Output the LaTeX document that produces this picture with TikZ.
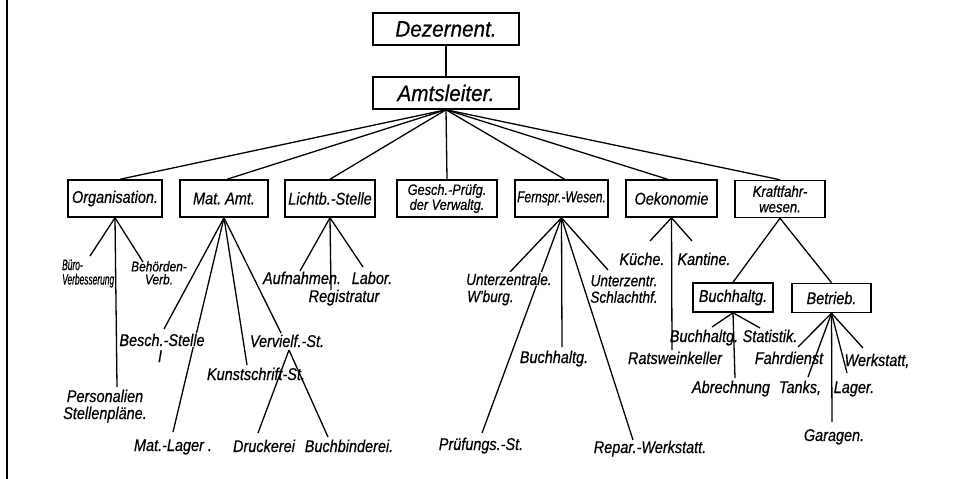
\documentclass[tikz,border=0pt]{standalone}
\usepackage{fontspec}
\newfontfamily\handfont[FakeStretch=0.85,FakeBold=0.5]{Liberation Sans}
\newfontfamily\narrowfont[FakeStretch=0.75,FakeBold=0.5]{Liberation Sans}
\newfontfamily\tightfont[FakeStretch=0.56,FakeBold=0.5]{Liberation Sans}
\newfontfamily\topfont[FakeStretch=0.92,FakeBold=0.5]{Liberation Sans}
\newcommand\leaffont{\handfont\itshape\fontsize{17}{16}\selectfont}
\pgfdeclarelayer{lines}
\pgfsetlayers{lines,main}
\begin{document}
\begin{tikzpicture}[x=1pt,y=-1pt,
  box/.style={draw,line width=1.5pt,inner sep=0pt,align=center,font=\leaffont},
  topbox/.style={box,minimum width=146pt,minimum height=32pt,
    font=\topfont\itshape\fontsize{22.5}{22}\selectfont},
  unitbox/.style={box,minimum height=37pt},
  subbox/.style={box,minimum height=29pt},
  lbl/.style={inner sep=0pt,anchor=base,font=\leaffont},
  lblm/.style={inner sep=0pt,anchor=north,align=center,font=\handfont\itshape\fontsize{17}{17}\selectfont},
  gap/.style={fill=white,inner xsep=1pt,inner ysep=1pt},
  link/.style={line width=1.3pt}]
\useasboundingbox (0,0) rectangle (958,479);

% left margin rule
\draw[line width=1.8pt] (7,0) -- (7,479);

% top of the hierarchy
\node[topbox] (dez) at (446,29) {Dezernent.};
\node[topbox] (amt) at (446,93) {Amtsleiter.};

% departments
\node[unitbox,minimum width=94pt] (org) at (115,198.5) {Organisation.};
\node[unitbox,minimum width=88pt] (mat) at (224,198.5) {Mat.\ Amt.};
\node[unitbox,minimum width=90pt] (licht) at (330,198.5) {Lichtb.-Stelle};
\node[unitbox,minimum width=100pt,font=\handfont\itshape\fontsize{15}{15}\selectfont]
  (gesch) at (447,198.5) {Gesch.-Prüfg.\\der Verwaltg.};
\node[unitbox,minimum width=93pt,font=\narrowfont\itshape\fontsize{16}{15}\selectfont]
  (fern) at (561.5,198.5) {Fernspr.-Wesen.};
\node[unitbox,minimum width=91pt] (oek) at (671.5,198.5) {Oekonomie};
\node[unitbox,minimum width=90pt,font=\handfont\itshape\fontsize{15.5}{15.5}\selectfont]
  (kraft) at (780,199) {Kraftfahr-\\wesen.};
\node[subbox,minimum width=80pt] (buchb) at (733,297.5) {Buchhaltg.};
\node[subbox,minimum width=79pt] (betr) at (831.5,298) {Betrieb.};

% Organisation
\node[inner sep=0pt,anchor=north west,align=left,
  font=\tightfont\itshape\fontsize{15}{14.5}\selectfont] (bv) at (62,259.5) {Büro-\\Verbesserung};
\node[inner sep=0pt,anchor=north,align=center,
  font=\handfont\itshape\fontsize{14}{13}\selectfont] (bh) at (159,261) {Behörden-\\Verb.};
\node[lblm] (pers) at (105,389.5) {Personalien\\Stellenpläne.};
\coordinate (e-bv) at (90,256);
\coordinate (e-bh) at (143,262);
\coordinate (e-pers) at (117,387);

% Mat. Amt
\node[lbl,gap] (besch) at (162,346) {Besch.-Stelle};
\node[lbl] (beschI) at (160,362) {I};
\node[lbl] (kunst) at (256,380) {Kunstschrift-St.};
\node[lbl] (verv) at (287,347) {Vervielf.-St.};
\node[lbl] (matlager) at (173,451) {Mat.-Lager .};
\node[lbl] (druck) at (264,452) {Druckerei};
\node[lbl] (bind) at (349,452) {Buchbinderei.};
\coordinate (e-besch) at (164,329);
\coordinate (e-lager) at (173,432);
\coordinate (e-kunst) at (247,365);
\coordinate (e-verv) at (281,333);
\coordinate (v0) at (289,350);
\coordinate (e-druck) at (258,433);
\coordinate (e-bind) at (328,437);

% Lichtbild-Stelle
\node[lbl] (aufn) at (302,284) {Aufnahmen.};
\node[lbl] (labor) at (372,284) {Labor.};
\node[lbl] (regis) at (344,302) {Registratur};
\coordinate (e-aufn) at (300,271);
\coordinate (e-labor) at (363,267);
\coordinate (e-regis) at (331,290);

% Fernsprechwesen
\node[lbl,gap,anchor=base west,font=\handfont\itshape\fontsize{16}{16}\selectfont]
  (unterw) at (465,285) {Unterzentrale.};
\node[lbl,anchor=base west,font=\handfont\itshape\fontsize{16}{16}\selectfont]
  (wburg) at (467,302) {W'burg.};
\node[lbl] (pruef) at (481,450) {Prüfungs.-St.};
\node[lbl] (fbuch) at (554,363) {Buchhaltg.};
\node[lbl] (repar) at (650,453) {Repar.-Werkstatt.};
\node[lblm,font=\handfont\itshape\fontsize{16}{16.5}\selectfont] (unters) at (624,275) {Unterzentr.\\Schlachthf.};
\coordinate (e-unterw) at (510,272);
\coordinate (e-pruef) at (482,433);
\coordinate (e-fbuch) at (562,347);
\coordinate (e-repar) at (633,440);
\coordinate (e-unters) at (608,270);

% Oekonomie
\node[lbl] (kueche) at (642,265) {Küche.};
\node[lbl] (kantine) at (704,265) {Kantine.};
\node[lbl] (rats) at (675,364) {Ratsweinkeller};
\coordinate (e-kueche) at (650,241);
\coordinate (e-kantine) at (692,241);
\coordinate (e-rats) at (672,350);

% Kraftfahrwesen: Buchhaltung
\node[lbl] (kbuch) at (704,342) {Buchhaltg.};
\node[lbl] (stat) at (770,342) {Statistik.};
\node[lbl] (abr) at (731,393) {Abrechnung};
\coordinate (e-kbuch) at (712,327);
\coordinate (e-stat) at (760,328);
\coordinate (e-abr) at (735,378);

% Kraftfahrwesen: Betrieb
\node[lbl] (fahr) at (789,364) {Fahrdienst};
\node[lbl] (werk) at (877,366) {Werkstatt,};
\node[lbl] (tanks) at (800,393) {Tanks,};
\node[lbl] (lager) at (854,393) {Lager.};
\node[lbl] (garagen) at (834,441) {Garagen.};
\coordinate (e-fahr) at (798,347);
\coordinate (e-tanks) at (808,377);
\coordinate (e-garagen) at (832,422);
\coordinate (e-lagerb) at (847,373);
\coordinate (e-werk) at (863,348);

\begin{pgfonlayer}{lines}
\draw[link] (dez.south) -- (amt.north);
\foreach \t/\dx in {org/5,mat/3,licht/0,gesch/0,fern/3,oek/-4,kraft/0}
  \draw[link] (amt.south) -- ([xshift=\dx pt]\t.north);
\foreach \e in {e-bv,e-bh,e-pers} \draw[link] (org.south) -- (\e);
\foreach \e in {e-besch,e-lager,e-kunst,e-verv} \draw[link] (mat.south) -- (\e);
\foreach \e in {e-druck,e-bind} \draw[link] (v0) -- (\e);
\foreach \e in {e-aufn,e-labor,e-regis} \draw[link] (licht.south) -- (\e);
\foreach \e in {e-unterw,e-pruef,e-fbuch,e-repar,e-unters} \draw[link] (fern.south) -- (\e);
\foreach \e in {e-kueche,e-kantine,e-rats} \draw[link] (oek.south) -- (\e);
\draw[link] (kraft.south) -- (buchb.north);
\draw[link] (kraft.south) -- (betr.north);
\foreach \e in {e-kbuch,e-stat,e-abr} \draw[link] (buchb.south) -- (\e);
\foreach \e in {e-fahr,e-tanks,e-garagen,e-lagerb,e-werk} \draw[link] (betr.south) -- (\e);
\end{pgfonlayer}
\end{tikzpicture}
\end{document}
